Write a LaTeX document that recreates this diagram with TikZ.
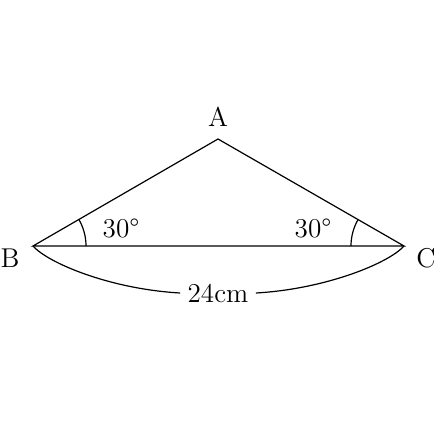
\documentclass[tikz,border=0pt]{standalone}
\usetikzlibrary{positioning}
\begin{document}
\begin{tikzpicture}[x=0.5pt,y=0.5pt,line width=0.6pt,every node/.style={black,font=\fontsize{13.6}{16}\selectfont}]
	\useasboundingbox (0,0) rectangle (440,425);
	\coordinate (B) at (33,179);
	\coordinate (C) at (404,179);
	\coordinate (A) at (218,286);

	\draw (B) -- (A) -- (C) -- cycle;

	\node (labA) at (218,308) {A};
	\node (labB) at (10,167) {B};
	\node (labC) at (426,167) {C};

	% angle marks
	\draw ([shift={(0:53)}]B) arc (0:30:53);
	\draw ([shift={(150:53)}]C) arc (150:180:53);
	\node (angB) at (121,197) {30\textdegree};
	\node (angC) at (313,197) {30\textdegree};

	% length of BC
	\node[inner sep=3.5pt] (len) at (218,132) {24cm};
	\draw (B) .. controls (48,162) and (110,136) .. (len.west);
	\draw (C) .. controls (389,162) and (326,136) .. (len.east);
\end{tikzpicture}
\end{document}
